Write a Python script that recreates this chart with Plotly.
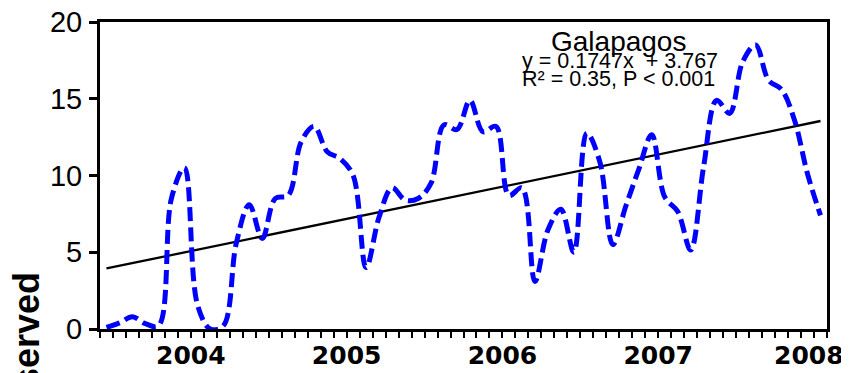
import plotly.graph_objects as go

# ---- data ----
months = list(range(1, 57))  # monthly index (Jun 2003 .. Jan 2008)
observed = [0.1, 0.4, 0.8, 0.35, 0.2, 8.5, 10.5, 1.6, 0.0, 0.2,
            5.6, 8.1, 5.9, 8.5, 8.7, 12.2, 13.2, 11.55, 11.1, 10.0,
            4.0, 7.3, 9.2, 8.4, 8.5, 9.5, 13.3, 13.0, 14.9, 12.85,
            13.2, 8.7, 9.2, 3.1, 6.45, 7.8, 5.0, 12.75, 10.9, 5.5,
            8.0, 10.4, 12.65, 8.6, 7.65, 5.15, 10.6, 14.9, 14.05, 17.4,
            18.5, 16.2, 15.6, 13.6, 10.1, 7.4]
slope = 0.1747
intercept = 3.767
year_labels = ["2004", "2005", "2006", "2007", "2008"]
year_pos = [7.5, 19.5, 31.5, 43.5, 55.1]
y_ticks = [0, 5, 10, 15, 20]
title_text = "Galapagos"
eq_text = "y = 0.1747x  + 3.767"
r2_text = "R² = 0.35, P < 0.001"
y_title = "Observed"

trend = [slope * m + intercept for m in months]
x_range = [0.5, 56.5]

fig = go.Figure()
fig.add_trace(go.Scatter(x=months, y=trend, mode="lines",
                         line=dict(color="black", width=2.3),
                         xaxis="x", yaxis="y", showlegend=False, hoverinfo="skip"))
fig.add_trace(go.Scatter(x=months, y=observed, mode="lines",
                         line=dict(color="#0000FF", width=5, dash="14px,6px",
                                   shape="spline", smoothing=1.0),
                         xaxis="x2", yaxis="y", showlegend=False))

# the page body has an 8px margin, so the figure is sized to fit the window
fig.update_layout(
    width=841, height=365,
    margin=dict(l=92, r=22, t=14, b=44, autoexpand=False),
    paper_bgcolor="white", plot_bgcolor="white",
    xaxis=dict(range=x_range, tickmode="linear", tick0=0.5, dtick=1,
               ticks="outside", ticklen=6, tickwidth=2, tickcolor="black",
               showticklabels=False, showline=True, linewidth=3, linecolor="black",
               mirror=True, showgrid=False, zeroline=False),
    xaxis2=dict(range=x_range, overlaying="x", anchor="y", side="bottom",
                tickmode="array", tickvals=year_pos, ticktext=year_labels,
                ticks="", showline=False, showgrid=False, zeroline=False,
                ticklabelstandoff=9, ticklabeloverflow="allow",
                tickfont=dict(family="DejaVu Sans", size=25, color="black", weight="bold")),
    yaxis=dict(range=[0, 20], tickmode="array", tickvals=y_ticks,
               ticks="outside", ticklen=8, tickwidth=2.5, tickcolor="black",
               showline=True, linewidth=3, linecolor="black", mirror=True,
               showgrid=False, zeroline=False, ticklabelstandoff=1,
               ticklabeloverflow="allow",
               tickfont=dict(family="Liberation Sans, Arial", size=29, color="black")),
)

fig.add_annotation(text=title_text, xref="paper", yref="paper",
                   x=(618 - 100) / 727, y=(329 - 41) / 307,
                   xanchor="center", yanchor="middle", showarrow=False,
                   font=dict(family="Liberation Sans, Arial", size=28, color="black"))
fig.add_annotation(text=eq_text, xref="paper", yref="paper",
                   x=(520 - 100) / 727, y=(329 - 61) / 307,
                   xanchor="left", yanchor="middle", showarrow=False,
                   font=dict(family="Liberation Sans, Arial", size=21.5, color="black"))
fig.add_annotation(text=r2_text, xref="paper", yref="paper",
                   x=(520 - 100) / 727, y=(329 - 79) / 307,
                   xanchor="left", yanchor="middle", showarrow=False,
                   font=dict(family="Liberation Sans, Arial", size=21.5, color="black"))
fig.add_annotation(text=y_title, xref="paper", yref="paper",
                   x=(26 - 100) / 727, y=(329 - 270) / 307,
                   xanchor="center", yanchor="top", textangle=-90, showarrow=False,
                   font=dict(family="Liberation Sans, Arial", size=36, color="black",
                             weight="bold"))

fig.write_html("out.html")
